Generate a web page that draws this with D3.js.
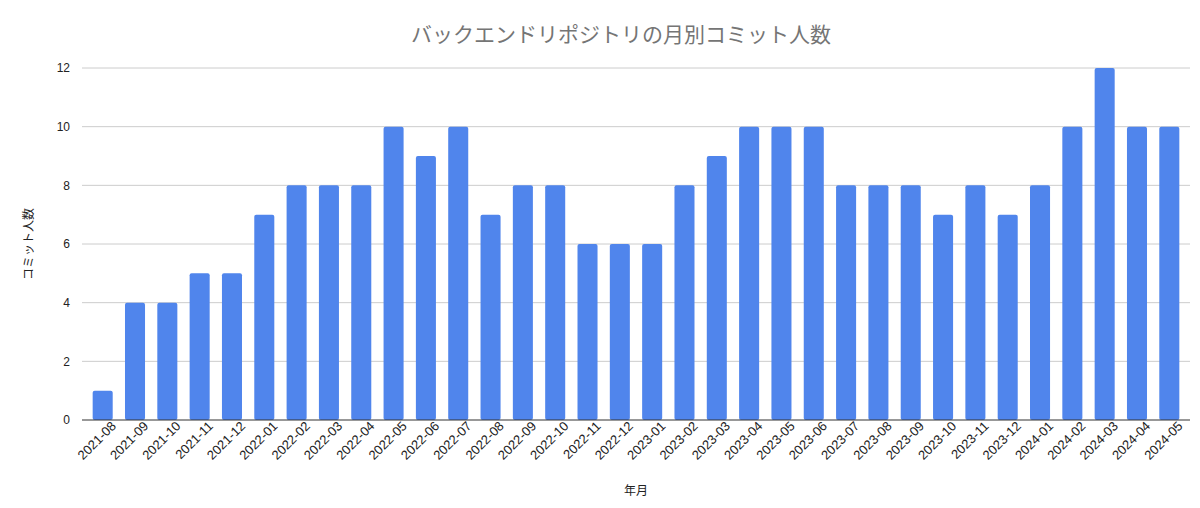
<!DOCTYPE html>
<html lang="ja">
<head>
    <meta charset="UTF-8">
    <title>バックエンドリポジトリの月別コミット人数</title>
    <script src="https://d3js.org/d3.v7.min.js"></script>
    <style>
        body {
            margin: 0;
            background-color: #ffffff;
            font-family: "Noto Sans CJK JP", Arial, sans-serif;
        }
        .title {
            fill: #757575;
            font-size: 21px;
            text-anchor: middle;
        }
        .axis-label {
            fill: #222222;
            font-size: 12px;
            text-anchor: middle;
        }
        .tick text {
            font-family: Arial, "Liberation Sans", sans-serif;
            font-size: 12px;
            fill: #222222;
        }
        .x-axis .tick text {
            font-size: 13px;
        }
    </style>
</head>
<body>
    <svg id="chart" width="1200" height="508"></svg>

    <script>
        // Data
        const months = [
            "2021-08", "2021-09", "2021-10", "2021-11", "2021-12",
            "2022-01", "2022-02", "2022-03", "2022-04", "2022-05", "2022-06",
            "2022-07", "2022-08", "2022-09", "2022-10", "2022-11", "2022-12",
            "2023-01", "2023-02", "2023-03", "2023-04", "2023-05", "2023-06",
            "2023-07", "2023-08", "2023-09", "2023-10", "2023-11", "2023-12",
            "2024-01", "2024-02", "2024-03", "2024-04", "2024-05"
        ];
        const committers = [
            1, 4, 4, 5, 5,
            7, 8, 8, 8, 10, 9,
            10, 7, 8, 8, 6, 6,
            6, 8, 9, 10, 10, 10,
            8, 8, 8, 7, 8, 7,
            8, 10, 12, 10, 10
        ];
        const yTicks = [0, 2, 4, 6, 8, 10, 12];

        const svg = d3.select("#chart");
        const margin = { top: 68, right: 10, bottom: 88, left: 82 };
        const width = +svg.attr("width") - margin.left - margin.right;
        const height = +svg.attr("height") - margin.top - margin.bottom;

        const data = months.map((m, i) => ({ month: m, value: committers[i] }));

        const x = d3.scaleBand()
            .domain(months)
            .range([0, width])
            .paddingInner(0.38)
            .paddingOuter(0.33);

        const y = d3.scaleLinear()
            .domain([0, 12])
            .range([height, 0]);

        const g = svg.append("g")
            .attr("transform", `translate(${margin.left},${margin.top})`);

        // Gridlines
        g.append("g")
            .selectAll("line")
            .data(yTicks.filter(t => t > 0))
            .enter().append("line")
            .attr("x1", 0)
            .attr("x2", width)
            .attr("y1", d => y(d))
            .attr("y2", d => y(d))
            .attr("stroke", "#cccccc")
            .attr("stroke-width", 1);

        // Y axis (labels only)
        const yAxis = g.append("g")
            .call(d3.axisLeft(y).tickValues(yTicks).tickSize(0).tickPadding(12));
        yAxis.select(".domain").remove();

        // Bars
        g.selectAll(".bar")
            .data(data)
            .enter().append("rect")
            .attr("class", "bar")
            .attr("x", d => x(d.month))
            .attr("y", d => y(d.value))
            .attr("width", x.bandwidth())
            .attr("height", d => height - y(d.value))
            .attr("rx", 2)
            .attr("fill", "#5085ec");

        // Baseline
        g.append("line")
            .attr("x1", 0)
            .attr("x2", width)
            .attr("y1", y(0))
            .attr("y2", y(0))
            .attr("stroke", "#333333")
            .attr("stroke-width", 1.2);

        // X axis
        const xAxis = g.append("g")
            .attr("class", "x-axis")
            .attr("transform", `translate(0,${height})`)
            .call(d3.axisBottom(x).tickSize(0).tickPadding(7));
        xAxis.select(".domain").remove();
        xAxis.selectAll("text")
            .attr("text-anchor", "end")
            .attr("dx", "0.4em")
            .attr("dy", "0.6em")
            .attr("transform", "rotate(-45)");

        // Title
        svg.append("text")
            .attr("class", "title")
            .attr("x", 621)
            .attr("y", 42)
            .text("バックエンドリポジトリの月別コミット人数");

        // Axis titles
        svg.append("text")
            .attr("class", "axis-label")
            .attr("x", margin.left + width / 2)
            .attr("y", 495)
            .text("年月");

        svg.append("text")
            .attr("class", "axis-label")
            .attr("transform", `translate(33,${margin.top + height / 2}) rotate(-90)`)
            .text("コミット人数");
    </script>
</body>
</html>
